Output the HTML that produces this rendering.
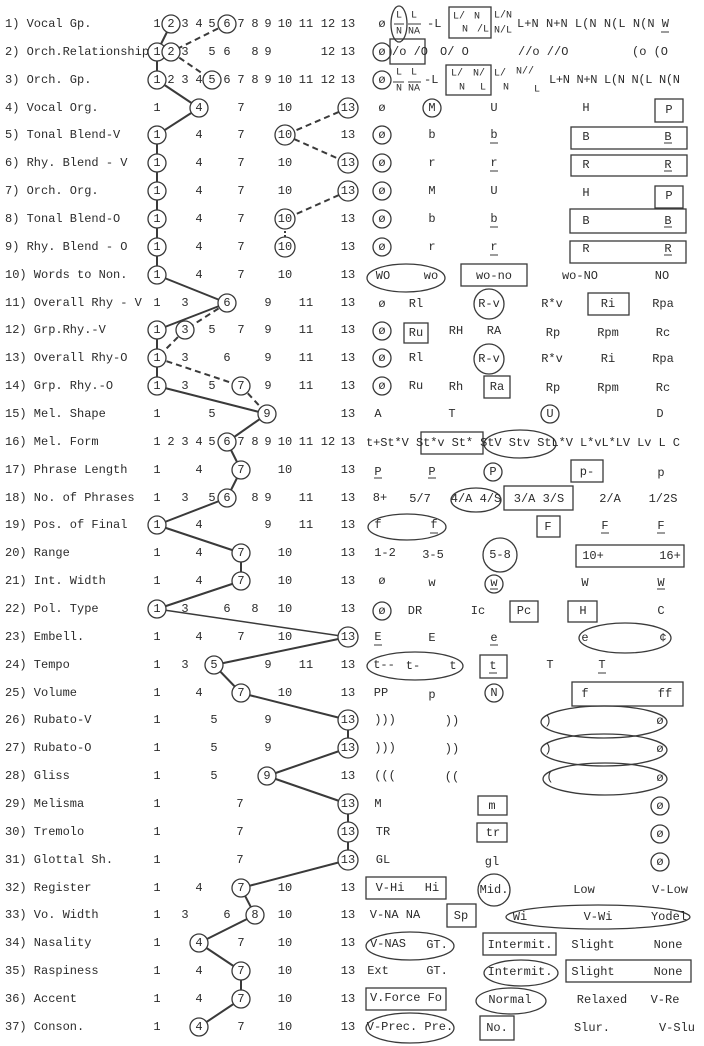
<!DOCTYPE html>
<html><head><meta charset="utf-8"><style>
html,body{margin:0;padding:0;background:#fff;}
svg{display:block;}
text{font-family:"Liberation Mono",monospace;font-size:12px;fill:#2b2b2b;dominant-baseline:central;}
.n{text-anchor:middle;}
.s{font-size:10px;}
</style></head><body>
<svg width="704" height="1046" viewBox="0 0 704 1046" xmlns="http://www.w3.org/2000/svg">
<!-- labels -->
<g>
<text x="5" y="24">1) Vocal Gp.</text>
<text x="5" y="52">2) Orch.Relationship</text>
<text x="5" y="80">3) Orch. Gp.</text>
<text x="5" y="108">4) Vocal Org.</text>
<text x="5" y="135">5) Tonal Blend-V</text>
<text x="5" y="163">6) Rhy. Blend - V</text>
<text x="5" y="191">7) Orch. Org.</text>
<text x="5" y="219">8) Tonal Blend-O</text>
<text x="5" y="247">9) Rhy. Blend - O</text>
<text x="5" y="275">10) Words to Non.</text>
<text x="5" y="303">11) Overall Rhy - V</text>
<text x="5" y="330">12) Grp.Rhy.-V</text>
<text x="5" y="358">13) Overall Rhy-O</text>
<text x="5" y="386">14) Grp. Rhy.-O</text>
<text x="5" y="414">15) Mel. Shape</text>
<text x="5" y="442">16) Mel. Form</text>
<text x="5" y="470">17) Phrase Length</text>
<text x="5" y="498">18) No. of Phrases</text>
<text x="5" y="525">19) Pos. of Final</text>
<text x="5" y="553">20) Range</text>
<text x="5" y="581">21) Int. Width</text>
<text x="5" y="609">22) Pol. Type</text>
<text x="5" y="637">23) Embell.</text>
<text x="5" y="665">24) Tempo</text>
<text x="5" y="693">25) Volume</text>
<text x="5" y="720">26) Rubato-V</text>
<text x="5" y="748">27) Rubato-O</text>
<text x="5" y="776">28) Gliss</text>
<text x="5" y="804">29) Melisma</text>
<text x="5" y="832">30) Tremolo</text>
<text x="5" y="860">31) Glottal Sh.</text>
<text x="5" y="888">32) Register</text>
<text x="5" y="915">33) Vo. Width</text>
<text x="5" y="943">34) Nasality</text>
<text x="5" y="971">35) Raspiness</text>
<text x="5" y="999">36) Accent</text>
<text x="5" y="1027">37) Conson.</text>
</g>
<!-- connecting lines -->
<g stroke="#3a3a3a" stroke-width="2" fill="none">
<line x1="171" y1="24" x2="157" y2="52"/>
<line x1="157" y1="52" x2="157" y2="80"/>
<line x1="157" y1="80" x2="199" y2="108"/>
<line x1="199" y1="108" x2="157" y2="135"/>
<line x1="157" y1="135" x2="157" y2="275"/>
<line x1="157" y1="275" x2="227" y2="303"/>
<line x1="227" y1="303" x2="157" y2="330"/>
<line x1="157" y1="330" x2="157" y2="386"/>
<line x1="157" y1="386" x2="267" y2="414"/>
<line x1="267" y1="414" x2="227" y2="442"/>
<line x1="227" y1="442" x2="241" y2="470"/>
<line x1="241" y1="470" x2="227" y2="498"/>
<line x1="227" y1="498" x2="157" y2="525"/>
<line x1="157" y1="525" x2="241" y2="553"/>
<line x1="241" y1="553" x2="241" y2="581"/>
<line x1="241" y1="581" x2="157" y2="609"/>
<line x1="157" y1="609" x2="348" y2="637" stroke-width="1.5"/>
<line x1="348" y1="637" x2="214" y2="665"/>
<line x1="214" y1="665" x2="241" y2="693"/>
<line x1="241" y1="693" x2="348" y2="720"/>
<line x1="348" y1="720" x2="348" y2="748"/>
<line x1="348" y1="748" x2="267" y2="776"/>
<line x1="267" y1="776" x2="348" y2="804"/>
<line x1="348" y1="804" x2="348" y2="860"/>
<line x1="348" y1="860" x2="241" y2="888"/>
<line x1="241" y1="888" x2="255" y2="915"/>
<line x1="255" y1="915" x2="199" y2="943"/>
<line x1="199" y1="943" x2="241" y2="971"/>
<line x1="241" y1="971" x2="241" y2="999"/>
<line x1="241" y1="999" x2="199" y2="1027"/>
</g>
<g stroke="#3a3a3a" stroke-width="2" fill="none" stroke-dasharray="6 4">
<line x1="227" y1="24" x2="171" y2="52"/>
<line x1="171" y1="52" x2="212" y2="80"/>
<line x1="348" y1="108" x2="285" y2="135"/>
<line x1="285" y1="135" x2="348" y2="163"/>
<line x1="348" y1="191" x2="285" y2="219"/>
<line x1="285" y1="219" x2="285" y2="247" stroke-dasharray="2 2"/>
<line x1="227" y1="303" x2="185" y2="330"/>
<line x1="185" y1="330" x2="157" y2="358"/>
<line x1="157" y1="358" x2="241" y2="386"/>
<line x1="241" y1="386" x2="267" y2="414"/>
</g>
<!-- circles on numbers -->
<g fill="#fff" stroke="#3a3a3a" stroke-width="1.3">
<circle cx="171" cy="24" r="9"/><circle cx="227" cy="24" r="9"/>
<circle cx="157" cy="52" r="9"/><circle cx="171" cy="52" r="9"/>
<circle cx="157" cy="80" r="9"/><circle cx="212" cy="80" r="9"/>
<circle cx="199" cy="108" r="9"/><circle cx="348" cy="108" r="10"/>
<circle cx="157" cy="135" r="9"/><circle cx="285" cy="135" r="10"/>
<circle cx="157" cy="163" r="9"/><circle cx="348" cy="163" r="10"/>
<circle cx="157" cy="191" r="9"/><circle cx="348" cy="191" r="10"/>
<circle cx="157" cy="219" r="9"/><circle cx="285" cy="219" r="10"/>
<circle cx="157" cy="247" r="9"/><circle cx="285" cy="247" r="10"/>
<circle cx="157" cy="275" r="9"/>
<circle cx="227" cy="303" r="9"/>
<circle cx="157" cy="330" r="9"/><circle cx="185" cy="330" r="9"/>
<circle cx="157" cy="358" r="9"/>
<circle cx="157" cy="386" r="9"/><circle cx="241" cy="386" r="9"/>
<circle cx="267" cy="414" r="9"/>
<circle cx="227" cy="442" r="9"/>
<circle cx="241" cy="470" r="9"/>
<circle cx="227" cy="498" r="9"/>
<circle cx="157" cy="525" r="9"/>
<circle cx="241" cy="553" r="9"/>
<circle cx="241" cy="581" r="9"/>
<circle cx="157" cy="609" r="9"/>
<circle cx="348" cy="637" r="10"/>
<circle cx="214" cy="665" r="9"/>
<circle cx="241" cy="693" r="9"/>
<circle cx="348" cy="720" r="10"/>
<circle cx="348" cy="748" r="10"/>
<circle cx="267" cy="776" r="9"/>
<circle cx="348" cy="804" r="10"/>
<circle cx="348" cy="832" r="10"/>
<circle cx="348" cy="860" r="10"/>
<circle cx="241" cy="888" r="9"/>
<circle cx="255" cy="915" r="9"/>
<circle cx="199" cy="943" r="9"/>
<circle cx="241" cy="971" r="9"/>
<circle cx="241" cy="999" r="9"/>
<circle cx="199" cy="1027" r="9"/>
</g>
<!-- numbers -->
<g class="n">
<!-- r1 -->
<text class="n" x="157" y="24">1</text><text class="n" x="171" y="24">2</text><text class="n" x="185" y="24">3</text><text class="n" x="199" y="24">4</text><text class="n" x="212" y="24">5</text><text class="n" x="227" y="24">6</text><text class="n" x="241" y="24">7</text><text class="n" x="255" y="24">8</text><text class="n" x="268" y="24">9</text><text class="n" x="285" y="24">10</text><text class="n" x="306" y="24">11</text><text class="n" x="328" y="24">12</text><text class="n" x="348" y="24">13</text>
<!-- r2 -->
<text class="n" x="157" y="52">1</text><text class="n" x="171" y="52">2</text><text class="n" x="185" y="52">3</text><text class="n" x="212" y="52">5</text><text class="n" x="227" y="52">6</text><text class="n" x="255" y="52">8</text><text class="n" x="268" y="52">9</text><text class="n" x="328" y="52">12</text><text class="n" x="348" y="52">13</text>
<!-- r3 -->
<text class="n" x="157" y="80">1</text><text class="n" x="171" y="80">2</text><text class="n" x="185" y="80">3</text><text class="n" x="199" y="80">4</text><text class="n" x="212" y="80">5</text><text class="n" x="227" y="80">6</text><text class="n" x="241" y="80">7</text><text class="n" x="255" y="80">8</text><text class="n" x="268" y="80">9</text><text class="n" x="285" y="80">10</text><text class="n" x="306" y="80">11</text><text class="n" x="328" y="80">12</text><text class="n" x="348" y="80">13</text>
<!-- r4-r10 -->
<text class="n" x="157" y="108">1</text><text class="n" x="199" y="108">4</text><text class="n" x="241" y="108">7</text><text class="n" x="285" y="108">10</text><text class="n" x="348" y="108">13</text>
<text class="n" x="157" y="135">1</text><text class="n" x="199" y="135">4</text><text class="n" x="241" y="135">7</text><text class="n" x="285" y="135">10</text><text class="n" x="348" y="135">13</text>
<text class="n" x="157" y="163">1</text><text class="n" x="199" y="163">4</text><text class="n" x="241" y="163">7</text><text class="n" x="285" y="163">10</text><text class="n" x="348" y="163">13</text>
<text class="n" x="157" y="191">1</text><text class="n" x="199" y="191">4</text><text class="n" x="241" y="191">7</text><text class="n" x="285" y="191">10</text><text class="n" x="348" y="191">13</text>
<text class="n" x="157" y="219">1</text><text class="n" x="199" y="219">4</text><text class="n" x="241" y="219">7</text><text class="n" x="285" y="219">10</text><text class="n" x="348" y="219">13</text>
<text class="n" x="157" y="247">1</text><text class="n" x="199" y="247">4</text><text class="n" x="241" y="247">7</text><text class="n" x="285" y="247">10</text><text class="n" x="348" y="247">13</text>
<text class="n" x="157" y="275">1</text><text class="n" x="199" y="275">4</text><text class="n" x="241" y="275">7</text><text class="n" x="285" y="275">10</text><text class="n" x="348" y="275">13</text>
<!-- r11 -->
<text class="n" x="157" y="303">1</text><text class="n" x="185" y="303">3</text><text class="n" x="227" y="303">6</text><text class="n" x="268" y="303">9</text><text class="n" x="306" y="303">11</text><text class="n" x="348" y="303">13</text>
<!-- r12 -->
<text class="n" x="157" y="330">1</text><text class="n" x="185" y="330">3</text><text class="n" x="212" y="330">5</text><text class="n" x="241" y="330">7</text><text class="n" x="268" y="330">9</text><text class="n" x="306" y="330">11</text><text class="n" x="348" y="330">13</text>
<!-- r13 -->
<text class="n" x="157" y="358">1</text><text class="n" x="185" y="358">3</text><text class="n" x="227" y="358">6</text><text class="n" x="268" y="358">9</text><text class="n" x="306" y="358">11</text><text class="n" x="348" y="358">13</text>
<!-- r14 -->
<text class="n" x="157" y="386">1</text><text class="n" x="185" y="386">3</text><text class="n" x="212" y="386">5</text><text class="n" x="241" y="386">7</text><text class="n" x="268" y="386">9</text><text class="n" x="306" y="386">11</text><text class="n" x="348" y="386">13</text>
<!-- r15 -->
<text class="n" x="157" y="414">1</text><text class="n" x="212" y="414">5</text><text class="n" x="267" y="414">9</text><text class="n" x="348" y="414">13</text>
<!-- r16 -->
<text class="n" x="157" y="442">1</text><text class="n" x="171" y="442">2</text><text class="n" x="185" y="442">3</text><text class="n" x="199" y="442">4</text><text class="n" x="212" y="442">5</text><text class="n" x="227" y="442">6</text><text class="n" x="241" y="442">7</text><text class="n" x="255" y="442">8</text><text class="n" x="268" y="442">9</text><text class="n" x="285" y="442">10</text><text class="n" x="306" y="442">11</text><text class="n" x="328" y="442">12</text><text class="n" x="348" y="442">13</text>
<!-- r17 -->
<text class="n" x="157" y="470">1</text><text class="n" x="199" y="470">4</text><text class="n" x="241" y="470">7</text><text class="n" x="285" y="470">10</text><text class="n" x="348" y="470">13</text>
<!-- r18 -->
<text class="n" x="157" y="498">1</text><text class="n" x="185" y="498">3</text><text class="n" x="212" y="498">5</text><text class="n" x="227" y="498">6</text><text class="n" x="255" y="498">8</text><text class="n" x="268" y="498">9</text><text class="n" x="306" y="498">11</text><text class="n" x="348" y="498">13</text>
<!-- r19 -->
<text class="n" x="157" y="525">1</text><text class="n" x="199" y="525">4</text><text class="n" x="268" y="525">9</text><text class="n" x="306" y="525">11</text><text class="n" x="348" y="525">13</text>
<!-- r20 r21 -->
<text class="n" x="157" y="553">1</text><text class="n" x="199" y="553">4</text><text class="n" x="241" y="553">7</text><text class="n" x="285" y="553">10</text><text class="n" x="348" y="553">13</text>
<text class="n" x="157" y="581">1</text><text class="n" x="199" y="581">4</text><text class="n" x="241" y="581">7</text><text class="n" x="285" y="581">10</text><text class="n" x="348" y="581">13</text>
<!-- r22 -->
<text class="n" x="157" y="609">1</text><text class="n" x="185" y="609">3</text><text class="n" x="227" y="609">6</text><text class="n" x="255" y="609">8</text><text class="n" x="285" y="609">10</text><text class="n" x="348" y="609">13</text>
<!-- r23 -->
<text class="n" x="157" y="637">1</text><text class="n" x="199" y="637">4</text><text class="n" x="241" y="637">7</text><text class="n" x="285" y="637">10</text><text class="n" x="348" y="637">13</text>
<!-- r24 -->
<text class="n" x="157" y="665">1</text><text class="n" x="185" y="665">3</text><text class="n" x="214" y="665">5</text><text class="n" x="268" y="665">9</text><text class="n" x="306" y="665">11</text><text class="n" x="348" y="665">13</text>
<!-- r25 -->
<text class="n" x="157" y="693">1</text><text class="n" x="199" y="693">4</text><text class="n" x="241" y="693">7</text><text class="n" x="285" y="693">10</text><text class="n" x="348" y="693">13</text>
<!-- r26-28 -->
<text class="n" x="157" y="720">1</text><text class="n" x="214" y="720">5</text><text class="n" x="268" y="720">9</text><text class="n" x="348" y="720">13</text>
<text class="n" x="157" y="748">1</text><text class="n" x="214" y="748">5</text><text class="n" x="268" y="748">9</text><text class="n" x="348" y="748">13</text>
<text class="n" x="157" y="776">1</text><text class="n" x="214" y="776">5</text><text class="n" x="267" y="776">9</text><text class="n" x="348" y="776">13</text>
<!-- r29-31 -->
<text class="n" x="157" y="804">1</text><text class="n" x="240" y="804">7</text><text class="n" x="348" y="804">13</text>
<text class="n" x="157" y="832">1</text><text class="n" x="240" y="832">7</text><text class="n" x="348" y="832">13</text>
<text class="n" x="157" y="860">1</text><text class="n" x="240" y="860">7</text><text class="n" x="348" y="860">13</text>
<!-- r32 -->
<text class="n" x="157" y="888">1</text><text class="n" x="199" y="888">4</text><text class="n" x="241" y="888">7</text><text class="n" x="285" y="888">10</text><text class="n" x="348" y="888">13</text>
<!-- r33 -->
<text class="n" x="157" y="915">1</text><text class="n" x="185" y="915">3</text><text class="n" x="227" y="915">6</text><text class="n" x="255" y="915">8</text><text class="n" x="285" y="915">10</text><text class="n" x="348" y="915">13</text>
<!-- r34-37 -->
<text class="n" x="157" y="943">1</text><text class="n" x="199" y="943">4</text><text class="n" x="241" y="943">7</text><text class="n" x="285" y="943">10</text><text class="n" x="348" y="943">13</text>
<text class="n" x="157" y="971">1</text><text class="n" x="199" y="971">4</text><text class="n" x="241" y="971">7</text><text class="n" x="285" y="971">10</text><text class="n" x="348" y="971">13</text>
<text class="n" x="157" y="999">1</text><text class="n" x="199" y="999">4</text><text class="n" x="241" y="999">7</text><text class="n" x="285" y="999">10</text><text class="n" x="348" y="999">13</text>
<text class="n" x="157" y="1027">1</text><text class="n" x="199" y="1027">4</text><text class="n" x="241" y="1027">7</text><text class="n" x="285" y="1027">10</text><text class="n" x="348" y="1027">13</text>
</g>

<!-- right side shapes -->
<g fill="none" stroke="#3a3a3a" stroke-width="1.3">
<ellipse cx="399" cy="24" rx="8" ry="18"/>
<rect x="449" y="7" width="42" height="31"/>
<circle cx="382" cy="52" r="9"/>
<rect x="390" y="39" width="35" height="25"/>
<circle cx="382" cy="80" r="9"/>
<rect x="446" y="65" width="45" height="30"/>
<circle cx="432" cy="108" r="9"/>
<rect x="655" y="99" width="28" height="23"/>
<circle cx="382" cy="135" r="9"/>
<rect x="571" y="127" width="116" height="22"/>
<circle cx="382" cy="163" r="9"/>
<rect x="571" y="155" width="116" height="21"/>
<circle cx="382" cy="191" r="9"/>
<rect x="655" y="186" width="28" height="22"/>
<circle cx="382" cy="219" r="9"/>
<rect x="570" y="209" width="116" height="24"/>
<circle cx="382" cy="247" r="9"/>
<rect x="570" y="241" width="116" height="22"/>
<ellipse cx="406" cy="278" rx="39" ry="14"/>
<rect x="461" y="264" width="66" height="22"/>
<circle cx="489" cy="304" r="15"/>
<rect x="588" y="293" width="41" height="22"/>
<circle cx="382" cy="331" r="9"/>
<rect x="404" y="323" width="24" height="20"/>
<circle cx="382" cy="358" r="9"/>
<circle cx="489" cy="359" r="15"/>
<circle cx="382" cy="386" r="9"/>
<rect x="484" y="376" width="26" height="22"/>
<circle cx="550" cy="414" r="9"/>
<rect x="421" y="432" width="62" height="22"/>
<ellipse cx="520" cy="444" rx="36" ry="14"/>
<circle cx="493" cy="472" r="9"/>
<rect x="571" y="460" width="32" height="22"/>
<ellipse cx="476" cy="500" rx="25" ry="12"/>
<rect x="504" y="486" width="69" height="24"/>
<ellipse cx="407" cy="527" rx="39" ry="13"/>
<rect x="537" y="516" width="23" height="21"/>
<ellipse cx="500" cy="555" rx="17" ry="17"/>
<rect x="576" y="545" width="108" height="22"/>
<circle cx="494" cy="584" r="9"/>
<circle cx="382" cy="611" r="9"/>
<rect x="510" y="601" width="28" height="21"/>
<rect x="568" y="601" width="29" height="21"/>
<ellipse cx="625" cy="638" rx="46" ry="15"/>
<ellipse cx="415" cy="666" rx="48" ry="14"/>
<rect x="480" y="655" width="27" height="23"/>
<circle cx="494" cy="693" r="9"/>
<rect x="572" y="682" width="111" height="24"/>
<ellipse cx="604" cy="722" rx="63" ry="16"/>
<ellipse cx="604" cy="750" rx="63" ry="16"/>
<ellipse cx="605" cy="779" rx="62" ry="16"/>
<rect x="478" y="796" width="29" height="19"/>
<circle cx="660" cy="806" r="9"/>
<rect x="477" y="823" width="30" height="19"/>
<circle cx="660" cy="834" r="9"/>
<circle cx="660" cy="862" r="9"/>
<rect x="366" y="877" width="80" height="22"/>
<circle cx="494" cy="890" r="16"/>
<rect x="447" y="904" width="29" height="23"/>
<ellipse cx="598" cy="917" rx="92" ry="12"/>
<ellipse cx="410" cy="946" rx="44" ry="14"/>
<rect x="483" y="933" width="73" height="22"/>
<ellipse cx="521" cy="973" rx="37" ry="13"/>
<rect x="566" y="960" width="125" height="22"/>
<rect x="366" y="988" width="80" height="22"/>
<ellipse cx="511" cy="1001" rx="35" ry="13"/>
<ellipse cx="410" cy="1028" rx="44" ry="15"/>
<rect x="480" y="1016" width="34" height="24"/>
</g>
<!-- fraction bars / underlines -->
<g stroke="#3a3a3a" stroke-width="1">
<line x1="394" y1="24" x2="404" y2="24"/><line x1="408" y1="24" x2="421" y2="24"/>
<line x1="393" y1="82" x2="404" y2="82"/><line x1="408" y1="82" x2="421" y2="82"/>
<line x1="490" y1="143" x2="498" y2="143"/><line x1="664" y1="143" x2="672" y2="143"/>
<line x1="490" y1="171" x2="498" y2="171"/><line x1="664" y1="171" x2="672" y2="171"/>
<line x1="490" y1="227" x2="498" y2="227"/><line x1="664" y1="227" x2="672" y2="227"/>
<line x1="490" y1="255" x2="498" y2="255"/><line x1="664" y1="255" x2="672" y2="255"/>
<line x1="374" y1="478" x2="382" y2="478"/><line x1="428" y1="478" x2="436" y2="478"/>
<line x1="430" y1="533" x2="438" y2="533"/><line x1="601" y1="533" x2="609" y2="533"/><line x1="657" y1="533" x2="665" y2="533"/>
<line x1="490" y1="589" x2="498" y2="589"/><line x1="657" y1="589" x2="665" y2="589"/>
<line x1="374" y1="645" x2="382" y2="645"/><line x1="490" y1="645" x2="498" y2="645"/>
<line x1="489" y1="673" x2="497" y2="673"/><line x1="598" y1="673" x2="606" y2="673"/>
<line x1="661" y1="32" x2="669" y2="32"/>
</g>
<!-- right side text -->
<g>
<text class="n" x="382" y="24">ø</text>
<text class="n s" x="399" y="16">L</text><text class="n s" x="399" y="32">N</text>
<text class="n s" x="414" y="16">L</text><text class="n s" x="414" y="32">NA</text>
<text x="427" y="24">-L</text>
<text class="s" x="453" y="17">L/</text><text class="s" x="462" y="30">N</text>
<text class="s" x="474" y="17">N</text><text class="s" x="477" y="30">/L</text>
<text class="s" x="494" y="16">L/N</text><text class="s" x="494" y="31">N/L</text>
<text x="517" y="24" textLength="152" lengthAdjust="spacing">L+N N+N L(N N(L N(N W</text>

<text class="n" x="382" y="52">ø</text>
<text x="392" y="52">/o /O</text>
<text x="440" y="52">O/ O</text>
<text x="518" y="52">//o //O</text>
<text x="632" y="52">(o  (O</text>

<text class="n" x="382" y="80">ø</text>
<text class="n s" x="399" y="73">L</text><text class="n s" x="399" y="89">N</text>
<text class="n s" x="414" y="73">L</text><text class="n s" x="414" y="89">NA</text>
<text x="424" y="80">-L</text>
<text class="s" x="451" y="74">L/</text><text class="s" x="459" y="88">N</text>
<text class="s" x="473" y="74">N/</text><text class="s" x="480" y="88">L</text>
<text class="s" x="494" y="74">L/</text><text class="s" x="503" y="88">N</text>
<text class="s" x="516" y="72">N//</text><text class="s" x="534" y="90">L</text>
<text x="549" y="80" textLength="131" lengthAdjust="spacing">L+N N+N L(N N(L N(N</text>

<text class="n" x="382" y="108">ø</text><text class="n" x="432" y="108">M</text><text class="n" x="494" y="108">U</text><text class="n" x="586" y="108">H</text><text class="n" x="669" y="110">P</text>
<text class="n" x="382" y="135">ø</text><text class="n" x="432" y="135">b</text><text class="n" x="494" y="135">b</text><text class="n" x="586" y="137">B</text><text class="n" x="668" y="137">B</text>
<text class="n" x="382" y="163">ø</text><text class="n" x="432" y="163">r</text><text class="n" x="494" y="163">r</text><text class="n" x="586" y="165">R</text><text class="n" x="668" y="165">R</text>
<text class="n" x="382" y="191">ø</text><text class="n" x="432" y="191">M</text><text class="n" x="494" y="191">U</text><text class="n" x="586" y="193">H</text><text class="n" x="669" y="196">P</text>
<text class="n" x="382" y="219">ø</text><text class="n" x="432" y="219">b</text><text class="n" x="494" y="219">b</text><text class="n" x="586" y="221">B</text><text class="n" x="668" y="221">B</text>
<text class="n" x="382" y="247">ø</text><text class="n" x="432" y="247">r</text><text class="n" x="494" y="247">r</text><text class="n" x="586" y="249">R</text><text class="n" x="668" y="249">R</text>

<text class="n" x="383" y="276">WO</text><text class="n" x="431" y="276">wo</text><text class="n" x="494" y="276">wo-no</text><text class="n" x="580" y="276">wo-NO</text><text class="n" x="662" y="276">NO</text>
<text class="n" x="382" y="304">ø</text><text class="n" x="416" y="304">Rl</text><text class="n" x="489" y="304">R-v</text><text class="n" x="552" y="304">R*v</text><text class="n" x="608" y="304">Ri</text><text class="n" x="663" y="304">Rpa</text>
<text class="n" x="382" y="331">ø</text><text class="n" x="416" y="333">Ru</text><text class="n" x="456" y="331">RH</text><text class="n" x="494" y="331">RA</text><text class="n" x="553" y="333">Rp</text><text class="n" x="608" y="333">Rpm</text><text class="n" x="663" y="333">Rc</text>
<text class="n" x="382" y="358">ø</text><text class="n" x="416" y="358">Rl</text><text class="n" x="489" y="359">R-v</text><text class="n" x="552" y="359">R*v</text><text class="n" x="608" y="359">Ri</text><text class="n" x="663" y="359">Rpa</text>
<text class="n" x="382" y="386">ø</text><text class="n" x="416" y="386">Ru</text><text class="n" x="456" y="387">Rh</text><text class="n" x="497" y="387">Ra</text><text class="n" x="553" y="388">Rp</text><text class="n" x="608" y="388">Rpm</text><text class="n" x="663" y="388">Rc</text>
<text class="n" x="378" y="414">A</text><text class="n" x="452" y="414">T</text><text class="n" x="550" y="414">U</text><text class="n" x="660" y="414">D</text>
<text x="366" y="443" textLength="314" lengthAdjust="spacing">t+St*V St*v St* StV Stv StL*V L*vL*LV Lv L C</text>
<text class="n" x="378" y="472">P</text><text class="n" x="432" y="472">P</text><text class="n" x="493" y="472">P</text><text class="n" x="587" y="472">p-</text><text class="n" x="661" y="473">p</text>
<text class="n" x="380" y="498">8+</text><text class="n" x="420" y="499">5/7</text><text class="n" x="476" y="499">4/A 4/S</text><text class="n" x="539" y="499">3/A  3/S</text><text class="n" x="610" y="499">2/A</text><text class="n" x="663" y="499">1/2S</text>
<text class="n" x="378" y="525">f</text><text class="n" x="434" y="525">f</text><text class="n" x="548" y="527">F</text><text class="n" x="605" y="526">F</text><text class="n" x="661" y="526">F</text>
<text class="n" x="385" y="553">1-2</text><text class="n" x="433" y="555">3-5</text><text class="n" x="500" y="555">5-8</text><text class="n" x="593" y="556">10+</text><text class="n" x="670" y="556">16+</text>
<text class="n" x="382" y="581">ø</text><text class="n" x="432" y="583">w</text><text class="n" x="494" y="583">w</text><text class="n" x="585" y="583">W</text><text class="n" x="661" y="583">W</text>
<text class="n" x="382" y="611">ø</text><text class="n" x="415" y="611">DR</text><text class="n" x="478" y="611">Ic</text><text class="n" x="524" y="611">Pc</text><text class="n" x="583" y="611">H</text><text class="n" x="661" y="611">C</text>
<text class="n" x="378" y="637">E</text><text class="n" x="432" y="638">E</text><text class="n" x="494" y="638">e</text><text class="n" x="585" y="638">e</text><text class="n" x="663" y="638">¢</text>
<text class="n" x="384" y="665">t--</text><text class="n" x="413" y="666">t-</text><text class="n" x="453" y="666">t</text><text class="n" x="493" y="666">t</text><text class="n" x="550" y="665">T</text><text class="n" x="602" y="665">T</text>
<text class="n" x="381" y="693">PP</text><text class="n" x="432" y="695">p</text><text class="n" x="494" y="693">N</text><text class="n" x="585" y="694">f</text><text class="n" x="665" y="694">ff</text>
<text class="n" x="385" y="720">)))</text><text class="n" x="452" y="721">))</text><text class="n" x="548" y="721">)</text><text class="n" x="660" y="721">ø</text>
<text class="n" x="385" y="748">)))</text><text class="n" x="452" y="749">))</text><text class="n" x="548" y="749">)</text><text class="n" x="660" y="749">ø</text>
<text class="n" x="385" y="776">(((</text><text class="n" x="452" y="777">((</text><text class="n" x="550" y="777">(</text><text class="n" x="660" y="778">ø</text>
<text class="n" x="378" y="804">M</text><text class="n" x="492" y="806">m</text><text class="n" x="660" y="806">ø</text>
<text class="n" x="383" y="832">TR</text><text class="n" x="493" y="833">tr</text><text class="n" x="660" y="834">ø</text>
<text class="n" x="383" y="860">GL</text><text class="n" x="492" y="862">gl</text><text class="n" x="660" y="862">ø</text>
<text class="n" x="390" y="888">V-Hi</text><text class="n" x="432" y="888">Hi</text><text class="n" x="494" y="890">Mid.</text><text class="n" x="584" y="890">Low</text><text class="n" x="670" y="890">V-Low</text>
<text class="n" x="395" y="915">V-NA NA</text><text class="n" x="461" y="916">Sp</text><text class="n" x="520" y="917">Wi</text><text class="n" x="598" y="917">V-Wi</text><text class="n" x="669" y="917">Yodel</text>
<text class="n" x="388" y="944">V-NAS</text><text class="n" x="437" y="945">GT.</text><text class="n" x="520" y="945">Intermit.</text><text class="n" x="593" y="945">Slight</text><text class="n" x="668" y="945">None</text>
<text class="n" x="378" y="971">Ext</text><text class="n" x="437" y="971">GT.</text><text class="n" x="520" y="972">Intermit.</text><text class="n" x="593" y="972">Slight</text><text class="n" x="668" y="972">None</text>
<text class="n" x="406" y="998">V.Force Fo</text><text class="n" x="510" y="1000">Normal</text><text class="n" x="602" y="1000">Relaxed</text><text class="n" x="665" y="1000">V-Re</text>
<text class="n" x="410" y="1027">V-Prec. Pre.</text><text class="n" x="497" y="1028">No.</text><text class="n" x="592" y="1028">Slur.</text><text class="n" x="677" y="1028">V-Slu</text>
</g>
</svg>
</body></html>
